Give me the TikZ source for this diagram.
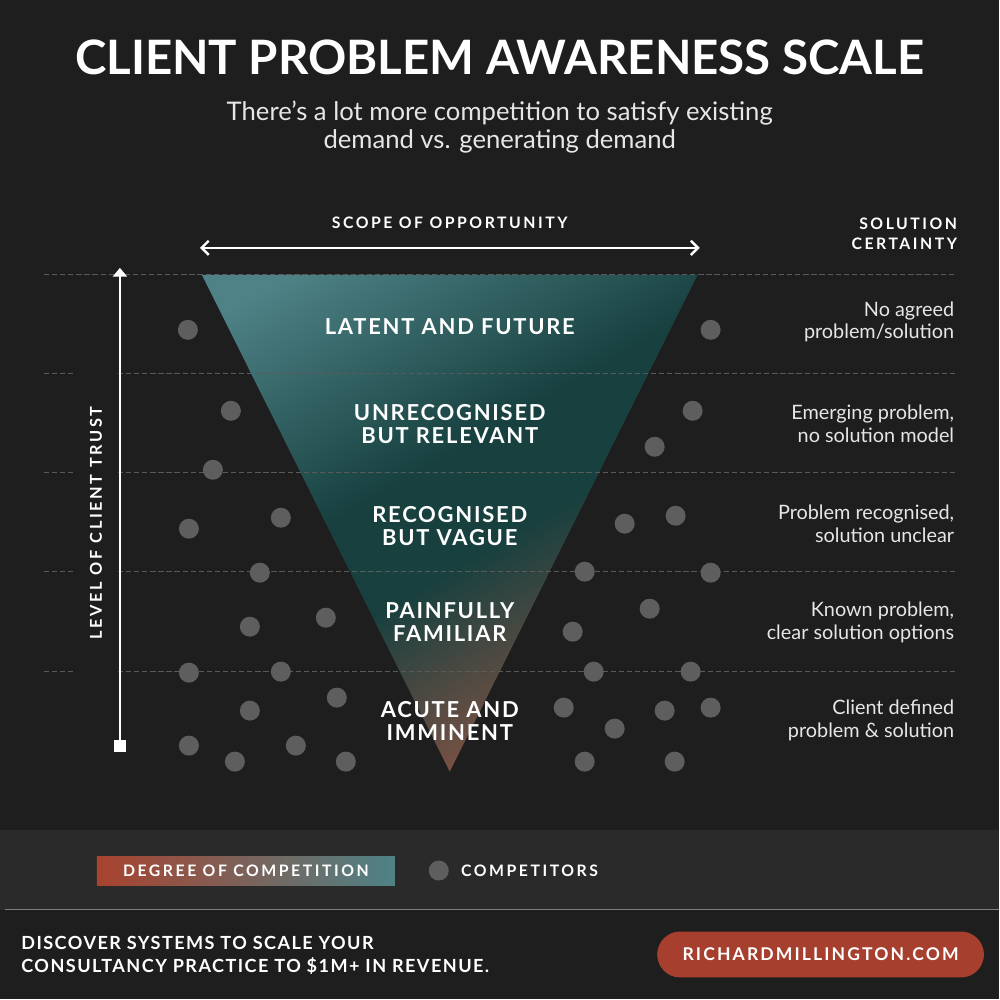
\documentclass[tikz,border=0pt]{standalone}
\usepackage{fontspec}
\setmainfont{Lato}
\newfontfamily\spacedfont[LetterSpace=8]{Lato}
\newfontfamily\sitefont[LetterSpace=12]{Lato}
\newfontfamily\widefont[LetterSpace=16]{Lato}
\usetikzlibrary{arrows.meta}
\definecolor{Ink}{HTML}{1E1E1E}
\definecolor{Band}{HTML}{2A2A2A}
\definecolor{Grid}{HTML}{5A5A5A}
\definecolor{Dot}{HTML}{5E5E5E}
\definecolor{Mist}{HTML}{E6E6E6}
\definecolor{TealLight}{HTML}{4E8286}
\definecolor{TealDark}{HTML}{17403F}
\definecolor{Coral}{HTML}{A8432F}
\definecolor{Clay}{HTML}{7E5244}
\definecolor{Rust}{HTML}{A63F2E}
\pgfdeclareverticalshading{funnel}{100bp}{color(0bp)=(Clay); color(27bp)=(Clay);
  color(46bp)=(TealDark); color(56bp)=(TealDark); color(80bp)=(TealLight); color(100bp)=(TealLight)}

\begin{document}
\begin{tikzpicture}[x=0.02cm,y=-0.02cm,
      every node/.style={text=white,inner sep=0pt},
      stage/.style={font=\spacedfont\bfseries\fontsize{12.5}{13}\selectfont,align=center},
      certainty/.style={font=\fontsize{11.3}{13}\selectfont,align=right,anchor=east,text=Mist},
      tag/.style={font=\widefont\bfseries\fontsize{9}{11.3}\selectfont},
      gridline/.style={draw=Grid,line width=0.6pt,dash pattern=on 3pt off 1.6pt},
      >=Latex
    ]
      % background and footer band
      \fill[Ink] (0,0) rectangle (1000,1000);
      \fill[Band] (0,830) rectangle (1000,910);
      \draw[gray,line width=0.6pt] (5,910) -- (1000,910);

      \node[font=\bfseries\fontsize{27}{30}\selectfont] (title) at (500,57)
        {CLIENT PROBLEM AWARENESS SCALE};
      \node[font=\fontsize{14.6}{16}\selectfont,align=center,text=Mist] (subtitle) at (500,127)
        {There’s a lot more competition to satisfy existing\\demand vs. generating demand};

      % funnel
      \shade[shading=funnel,shading angle=30]
        (202,275) -- (698,275) -- (450,772) -- cycle;

      \draw[gridline] (44,275) -- (957,275);
      \foreach \y in {374,473,572,672} {
        \draw[gridline] (44,\y) -- (75,\y);
        \draw[gridline] (118,\y) -- (957,\y);
      }

      % competitors
      \foreach \x/\y in {188/330,231/411,213/470,189/529,281/518,260/573,250/627,326/618,
                         189/673,281/672,337/698,250/711,189/746,235/762,296/746,346/762,
                         711/330,693/411,655/447,625/524,676/516,585/572,711/573,650/609,
                         573/632,594/672,691/672,564/708,665/711,711/708,615/729,585/762,675/762}
        \fill[Dot] (\x,\y) circle (10);

      \coordinate (scopeL) at (200,248);
      \coordinate (scopeR) at (700,248);
      \draw[{Straight Barb[length=4pt,width=8pt]}-{Straight Barb[length=4pt,width=8pt]},
            white,line width=1.4pt] (scopeL) -- (scopeR);
      \node[tag] (scope) at (450,223) {SCOPE OF OPPORTUNITY};
      \node[tag,align=right,anchor=east] (solution) at (958,234) {SOLUTION\\CERTAINTY};

      \coordinate (trustLow) at (120,752);
      \coordinate (trustHigh) at (120,268);
      \draw[{Square[length=6.5pt,width=6.5pt]}-{Triangle[length=5pt,width=8pt]},
            white,line width=1.2pt] (trustLow) -- (trustHigh);
      \node[tag,font=\widefont\bfseries\fontsize{9.3}{11.3}\selectfont,rotate=90] (trust)
        at (96,523) {LEVEL OF CLIENT TRUST};

      \node[stage] (s1) at (450,327) {LATENT AND FUTURE};
      \node[stage] (s2) at (450,424) {UNRECOGNISED\\BUT RELEVANT};
      \node[stage] (s3) at (450,526) {RECOGNISED\\BUT VAGUE};
      \node[stage] (s4) at (450,622) {PAINFULLY\\FAMILIAR};
      \node[stage] (s5) at (450,721) {ACUTE AND\\IMMINENT};

      \node[certainty] (c1) at (955,322) {No agreed\\problem/solution};
      \node[certainty] (c2) at (955,424) {Emerging problem,\\no solution model};
      \node[certainty] (c3) at (955,524) {Problem recognised,\\solution unclear};
      \node[certainty] (c4) at (955,623) {Known problem,\\clear solution options};
      \node[certainty] (c5) at (955,721) {Client defined\\problem \& solution};

      % legend
      \node[tag,left color=Coral,middle color=TealDark,right color=TealLight,
            minimum width=5.96cm,minimum height=0.58cm] (degree) at (246,871)
            {DEGREE OF COMPETITION};
      \fill[Dot] (439,871) circle (10);
      \node[tag,anchor=west] (competitors) at (461,871) {COMPETITORS};

      \node[font=\spacedfont\bfseries\fontsize{10.3}{13}\selectfont,align=left,anchor=west] (cta)
        at (21,956) {DISCOVER SYSTEMS TO SCALE YOUR\\CONSULTANCY PRACTICE TO \$1M+ IN REVENUE.};
      \node[font=\sitefont\bfseries\fontsize{10}{12}\selectfont,fill=Rust,rounded corners=0.46cm,
            minimum width=6.54cm,minimum height=0.92cm] (site) at (821,955) {RICHARDMILLINGTON.COM};
    \end{tikzpicture}
\end{document}
